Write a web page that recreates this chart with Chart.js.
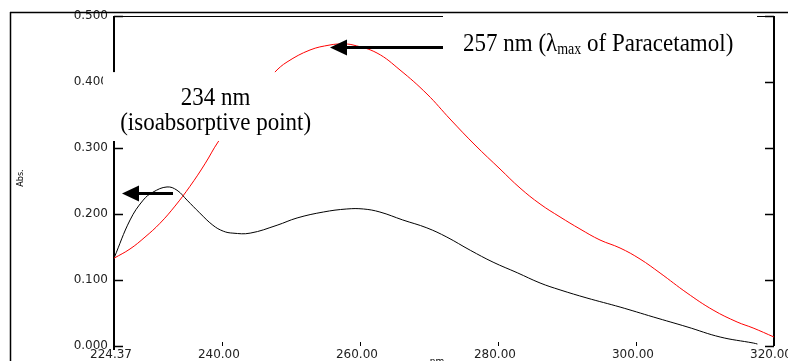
<!DOCTYPE html>
<html><head><meta charset="utf-8">
<script src="https://cdn.jsdelivr.net/npm/chart.js@4"></script>
<style>html,body{margin:0;padding:0;background:#fff;overflow:hidden}</style>
</head><body>
<canvas id="c" width="788" height="361"></canvas>
<script>
// Paracetamol (red) spectrum
const redX = [224.37,226.69,228.86,231.04,233.21,235.38,237.55,239.44,242.0,244.0,246.0,247.7,249.44,252.77,255.67,257.41,259.0,262.48,265.81,269.72,273.06,276.68,280.3,283.2,286.1,289.0,291.89,294.79,297.69,300.59,303.49,307.4,311.17,314.65,316.97,320.0];
const redY = [0.133,0.147,0.165,0.186,0.212,0.242,0.276,0.309,0.345,0.370,0.394,0.4152,0.4303,0.4485,0.4561,0.4576,0.4561,0.4439,0.4182,0.3818,0.3439,0.3045,0.2682,0.2394,0.2152,0.1955,0.1773,0.1606,0.1485,0.1318,0.1106,0.0803,0.0545,0.0364,0.0273,0.0136];
// second component (black) spectrum
const blackX = [224.37,226.7,228.6,230.0,232.05,233.5,234.95,236.8,238.7,240.2,241.6,244.1,248.0,250.9,254.7,258.1,260.5,262.9,266.2,269.7,272.6,276.0,279.3,282.8,286.1,289.0,292.9,297.7,302.5,307.4,312.2,317.0,317.6];
const blackY = [0.133,0.191,0.221,0.233,0.241,0.236,0.221,0.2015,0.183,0.174,0.171,0.171,0.183,0.194,0.203,0.2076,0.2076,0.203,0.191,0.179,0.165,0.145,0.127,0.111,0.0955,0.085,0.0727,0.059,0.044,0.029,0.0136,0.0045,0.003];
const xTickValues = [224.37,240,260,280,300,320];
const yTickValues = [0,0.1,0.2,0.3,0.4,0.5];
const xTickLabels = ["224.37","240.00","260.00","280.00","300.00","320.00"];
const yTickLabels = ["0.000","0.100","0.200","0.300","0.400","0.500"];

// annotation anchors in data units
const annoMax = {tipX:255.67, tailX:272.04, y:0.453, boxX0:272.04, boxX1:317.54, boxY0:0.503, boxY1:0.433};
const annoIso = {tipX:225.53, tailX:232.92, y:0.2318, boxX0:222.78, boxX1:254.22, boxY0:0.415, boxY1:0.3106, textX:239.1, line1Y:0.365, line2Y:0.327};

const redPts = redX.map((v,i)=>({x:v,y:redY[i]}));
const blackPts = blackX.map((v,i)=>({x:v,y:blackY[i]}));

function arrow(ctx, x0, x1, y){ // x0 tail, x1 tip
  const head = 17, half = 8;
  ctx.lineWidth = 3;
  ctx.beginPath(); ctx.moveTo(x0, y); ctx.lineTo(x1 + head - 1, y); ctx.stroke();
  ctx.beginPath(); ctx.moveTo(x1, y); ctx.lineTo(x1 + head, y - half); ctx.lineTo(x1 + head, y + half); ctx.closePath(); ctx.fill();
}

const frame = {
  id:'frame',
  beforeDatasetsDraw(chart){
    const {ctx, chartArea:a, scales:{x,y}} = chart;
    ctx.save();
    ctx.strokeStyle = '#000';
    ctx.lineWidth = 1.5;
    ctx.beginPath();
    ctx.moveTo(10, 12.5); ctx.lineTo(788, 12.5);
    ctx.moveTo(10.5, 12); ctx.lineTo(10.5, 361);
    ctx.stroke();
    ctx.lineWidth = 1;
    ctx.beginPath(); ctx.moveTo(a.left, a.top + 0.5); ctx.lineTo(a.right, a.top + 0.5); ctx.stroke();
    ctx.lineWidth = 2;
    ctx.beginPath();
    ctx.moveTo(a.left, a.top); ctx.lineTo(a.left, a.bottom + 4);
    ctx.moveTo(a.right, a.top); ctx.lineTo(a.right, a.bottom);
    ctx.stroke();
    ctx.lineWidth = 1.5;
    ctx.beginPath();
    yTickValues.forEach(v=>{
      const py = Math.round(y.getPixelForValue(v)) + 0.5;
      ctx.moveTo(a.left, py); ctx.lineTo(a.left + 9, py);
      ctx.moveTo(a.right - 9, py); ctx.lineTo(a.right, py);
    });
    ctx.stroke();
    ctx.lineWidth = 1;
    ctx.beginPath();
    xTickValues.slice(1, -1).forEach(v=>{
      const px = Math.round(x.getPixelForValue(v)) + 0.5;
      ctx.moveTo(px, a.bottom - 4); ctx.lineTo(px, a.bottom);
    });
    ctx.stroke();
    ctx.restore();
  },
  afterDatasetsDraw(chart){
    const {ctx, scales:{x,y}} = chart;
    ctx.save();
    ctx.fillStyle = '#fff';
    // white label boxes
    [annoMax, annoIso].forEach(b=>{
      const x0 = x.getPixelForValue(b.boxX0), x1 = x.getPixelForValue(b.boxX1);
      const y0 = y.getPixelForValue(b.boxY0), y1 = y.getPixelForValue(b.boxY1);
      ctx.fillRect(x0, y0, x1 - x0, y1 - y0);
    });
    ctx.fillStyle = '#000'; ctx.strokeStyle = '#000';
    // lambda max label
    const ay = Math.round(y.getPixelForValue(annoMax.y)) + 0.5;
    arrow(ctx, x.getPixelForValue(annoMax.tailX), x.getPixelForValue(annoMax.tipX), ay);
    let tx = x.getPixelForValue(annoMax.boxX0) + 20;
    const base = ay + 3;
    const part = (txt, size, dy)=>{
      ctx.save();
      ctx.font = size + 'px "Liberation Serif"';
      ctx.translate(tx, base + dy); ctx.scale(1, 1.12);
      ctx.textBaseline = 'alphabetic'; ctx.textAlign = 'left';
      ctx.fillText(txt, 0, 0);
      const w = ctx.measureText(txt).width;
      ctx.restore();
      tx += w;
    };
    part('257 nm (', 23, 0);
    part('\u03bb', 23, 0);
    part('max', 14, 3);
    part(' of Paracetamol)', 23, 0);
    // isoabsorptive label
    const iy = Math.round(y.getPixelForValue(annoIso.y)) + 0.5;
    arrow(ctx, x.getPixelForValue(annoIso.tailX), x.getPixelForValue(annoIso.tipX), iy);
    const cx = x.getPixelForValue(annoIso.textX);
    [['234 nm', annoIso.line1Y], ['(isoabsorptive point)', annoIso.line2Y]].forEach(([t, v])=>{
      ctx.save();
      ctx.font = '23px "Liberation Serif"';
      ctx.translate(cx, y.getPixelForValue(v)); ctx.scale(1, 1.12);
      ctx.textAlign = 'center'; ctx.textBaseline = 'alphabetic';
      ctx.fillText(t, 0, 0);
      ctx.restore();
    });
    // axis titles
    ctx.save();
    ctx.font = '8px "DejaVu Sans"';
    ctx.translate(21, 178); ctx.rotate(-Math.PI/2);
    ctx.textAlign = 'center'; ctx.textBaseline = 'middle';
    ctx.fillText('Abs.', 0, 0);
    ctx.restore();
    ctx.font = '9px "DejaVu Sans"';
    ctx.textAlign = 'center'; ctx.textBaseline = 'top';
    ctx.fillText('nm', 437, 357);
    ctx.restore();
  }
};

new Chart(document.getElementById('c'), {
  type:'scatter',
  data:{datasets:[
    {data:redPts, showLine:true, borderColor:'#ff0000', borderWidth:1, pointRadius:0, tension:0.4, fill:false},
    {data:blackPts, showLine:true, borderColor:'#000000', borderWidth:1, pointRadius:0, tension:0.4, fill:false}
  ]},
  options:{
    responsive:false, animation:false, events:[],
    layout:{padding:{left:0, right:14, top:16, bottom:0}},
    plugins:{legend:{display:false}, tooltip:{enabled:false}},
    scales:{
      x:{type:'linear', min:224.37, max:320,
        afterBuildTicks:s=>{ s.ticks = xTickValues.map(v=>({value:v})); },
        ticks:{autoSkip:false, maxRotation:0, minRotation:0, padding:2, labelOffset:-3, color:'#222',
          font:{family:'DejaVu Sans', size:12},
          callback:(v)=>{ const i = xTickValues.indexOf(v); return i>=0 ? xTickLabels[i] : ''; }},
        grid:{display:false, drawTicks:false}, border:{display:false},
        afterFit:s=>{ s.height = 15; s.paddingLeft = 0; s.paddingRight = 0; }
      },
      y:{type:'linear', min:0, max:0.5,
        afterBuildTicks:s=>{ s.ticks = yTickValues.map(v=>({value:v})); },
        ticks:{autoSkip:false, padding:6, color:'#222',
          font:{family:'DejaVu Sans', size:12},
          callback:(v)=>{ const i = yTickValues.findIndex(t=>Math.abs(t-v)<1e-9); return i>=0 ? yTickLabels[i] : ''; }},
        grid:{display:false, drawTicks:false}, border:{display:false},
        afterFit:s=>{ s.width = 114; s.paddingTop = 0; s.paddingBottom = 0; }
      }
    }
  },
  plugins:[frame]
});
</script>
</body></html>
